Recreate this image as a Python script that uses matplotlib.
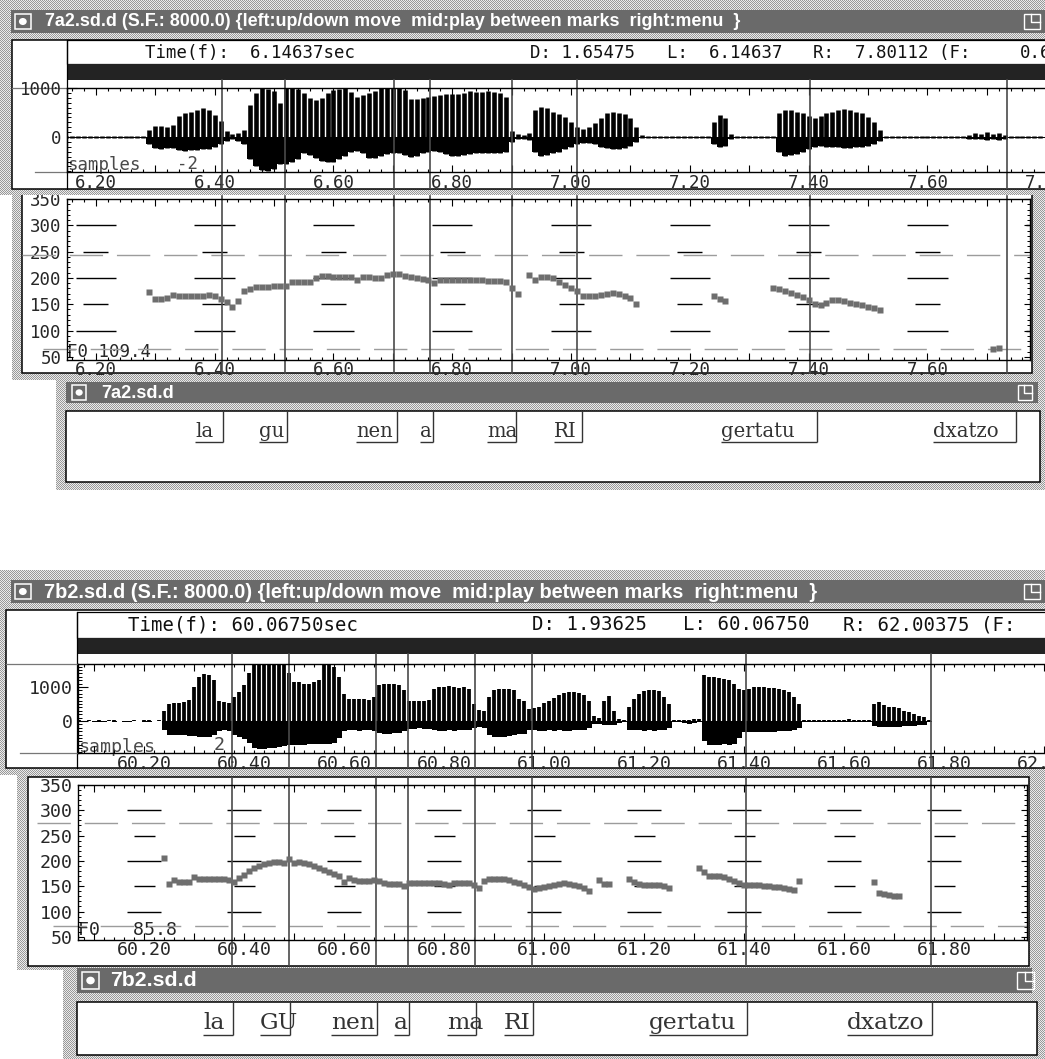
import numpy as np
import matplotlib
matplotlib.use("Agg")
import matplotlib.pyplot as plt
from matplotlib.patches import Rectangle, Ellipse
from matplotlib.ticker import MultipleLocator, FuncFormatter
from matplotlib.font_manager import FontProperties

# ---------------------------------------------------------------- data
# 7a2: displayed segment (seconds)
A_LEFT, A_RIGHT = 6.14637, 7.80112
# 7b2: displayed segment (seconds)
B_LEFT, B_RIGHT = 60.06750, 62.00375

FRAME_STEP = 0.01

# waveform envelopes (sample units), one value per 10 ms frame
A_WAVE_T0 = 6.15
A_WAVE_HI = [
    18, 22, 15, 20, 25, 18, 16, 22, 20, 15,
    20, 18, 24, 30, 150, 220, 230, 210, 250, 420,
    480, 520, 560, 600, 560, 450, 330, 120, 60, 80,
    150, 650, 900, 1000, 980, 930, 700, 1000, 1000, 980,
    900, 800, 760, 800, 900, 950, 980, 1000, 920, 820,
    850, 900, 940, 1000, 1000, 1000, 1000, 950, 780, 780,
    800, 820, 830, 850, 880, 880, 880, 900, 930, 920,
    920, 930, 910, 900, 820, 120, 60, 40, 80, 560,
    620, 590, 520, 460, 400, 300, 200, 170, 200, 280,
    380, 480, 520, 500, 470, 380, 200, 40, 22, 18,
    20, 25, 18, 22, 20, 16, 22, 18, 24, 300,
    450, 380, 60, 25, 20, 22, 18, 25, 20, 22,
    480, 550, 560, 520, 480, 420, 380, 420, 480, 520,
    560, 580, 560, 520, 480, 400, 300, 150, 20, 18,
    22, 18, 20, 25, 20, 18, 22, 20, 24, 18,
    20, 30, 50, 80, 60, 100, 70, 90, 50, 25,
    20, 18, 22, 20, 18, 20]
A_WAVE_LO = [
    -20, -18, -22, -15, -20, -25, -18, -16, -20, -22,
    -18, -20, -25, -30, -150, -220, -240, -230, -230, -260,
    -280, -270, -260, -250, -240, -200, -150, -80, -50, -80,
    -150, -450, -600, -680, -700, -650, -560, -560, -520, -440,
    -330, -360, -420, -480, -520, -500, -440, -380, -300, -280,
    -320, -420, -420, -380, -350, -330, -330, -360, -400, -380,
    -320, -300, -280, -300, -350, -380, -380, -360, -350, -330,
    -320, -320, -330, -320, -300, -100, -50, -40, -60, -300,
    -380, -360, -330, -300, -250, -200, -150, -120, -130, -150,
    -200, -230, -250, -240, -220, -180, -100, -30, -20, -18,
    -22, -18, -20, -25, -18, -20, -22, -18, -20, -150,
    -210, -180, -40, -25, -20, -18, -22, -20, -25, -20,
    -300, -380, -370, -350, -300, -250, -200, -180, -200, -210,
    -210, -220, -220, -210, -200, -190, -150, -80, -20, -22,
    -20, -18, -22, -20, -25, -18, -20, -22, -18, -20,
    -22, -30, -40, -50, -40, -60, -50, -60, -40, -25,
    -20, -22, -18, -20, -22, -18]

B_WAVE_T0 = 60.07
B_WAVE_HI = [
    15, 12, 18, 14, 16, 12, 15, 20, 14, 12,
    14, 16, 12, 15, 18, 14, 16, 300, 500, 540,
    520, 560, 620, 1000, 1300, 1390, 1350, 1200, 600, 560,
    540, 700, 850, 1050, 1400, 1650, 1650, 1650, 1650, 1650,
    1650, 1650, 1400, 1150, 1150, 1100, 1100, 1150, 1200, 1650,
    1650, 1600, 1300, 800, 650, 640, 650, 660, 620, 700,
    1050, 1100, 1100, 1080, 1050, 900, 600, 600, 580, 600,
    620, 950, 1000, 1000, 1020, 1000, 980, 1000, 950, 500,
    310, 300, 700, 900, 950, 950, 940, 900, 650, 600,
    360, 380, 420, 520, 600, 680, 750, 820, 850, 860,
    820, 750, 600, 150, 100, 600, 725, 300, 60, 40,
    410, 650, 800, 880, 900, 900, 880, 700, 510, 40,
    35, 30, 40, 50, 45, 1340, 1300, 1280, 1250, 1240,
    1200, 1100, 950, 900, 950, 1000, 1000, 1000, 980, 960,
    950, 900, 850, 700, 510, 25, 20, 22, 18, 20,
    25, 30, 40, 35, 45, 40, 30, 35, 25, 500,
    560, 480, 410, 400, 380, 300, 250, 200, 150, 120,
    20, 12, 10, 12, 10, 8, 10, 12, 10, 8,
    10, 12, 8, 10, 12, 10, 8, 10, 12, 10,
    8, 10, 12, 10]
B_WAVE_LO = [
    -15, -14, -12, -16, -15, -18, -12, -15, -14, -16,
    -15, -12, -14, -16, -15, -14, -12, -250, -400, -420,
    -420, -420, -430, -450, -470, -470, -460, -420, -280, -260,
    -300, -420, -470, -520, -650, -800, -820, -810, -800, -780,
    -760, -740, -720, -715, -700, -700, -690, -680, -670, -680,
    -670, -660, -500, -300, -275, -270, -280, -270, -260, -300,
    -360, -370, -370, -360, -350, -300, -230, -225, -220, -230,
    -240, -270, -280, -280, -275, -280, -270, -275, -260, -200,
    -180, -200, -420, -470, -470, -460, -450, -420, -380, -370,
    -270, -275, -280, -280, -275, -280, -275, -280, -280, -270,
    -270, -250, -220, -100, -80, -120, -130, -120, -50, -40,
    -250, -270, -275, -280, -275, -280, -270, -260, -200, -40,
    -35, -60, -100, -60, -40, -600, -715, -720, -700, -690,
    -700, -680, -500, -320, -320, -330, -320, -320, -310, -310,
    -300, -300, -290, -260, -200, -25, -20, -18, -22, -20,
    -20, -30, -40, -35, -40, -30, -35, -40, -30, -150,
    -180, -180, -170, -180, -170, -160, -150, -140, -130, -110,
    -15, -10, -12, -10, -8, -10, -12, -10, -8, -10,
    -10, -8, -12, -10, -8, -10, -12, -10, -8, -10,
    -10, -12, -10, -8]

# F0 tracks (Hz), voiced stretches: start time + one value per 10 ms frame
A_F0_STARTS = [6.29, 6.93, 7.24, 7.34, 7.71]
A_F0_SEG1 = [173, 159, 160, 161, 168, 165, 165, 165, 165, 165,
             168, 166, 160, 155, 144, 157, 175, 179, 182, 183,
             183, 184, 184, 184, 192, 193, 193, 193, 199, 203,
             203, 202, 202, 202, 201, 196, 202, 201, 200, 199,
             205, 207, 207, 203, 201, 200, 198, 196, 190, 197,
             197, 196, 196, 197, 197, 196, 196, 195, 195, 194,
             193, 181, 170]
A_F0_SEG2 = [205, 197, 202, 202, 199, 193, 187, 181, 176, 166,
             165, 165, 167, 170, 172, 170, 166, 161, 151]
A_F0_SEG3 = [165, 160, 157]
A_F0_SEG4 = [180, 179, 175, 172, 168, 164, 158, 150, 149, 153,
             158, 158, 156, 153, 150, 148, 145, 142, 139]
A_F0_SEG5 = [65, 67]

B_F0_STARTS = [60.24, 61.11, 61.17, 61.31, 61.51, 61.66]
B_F0_SEG1 = [205, 154, 162, 159, 158, 158, 168, 164, 164, 164,
             165, 165, 164, 163, 158, 166, 173, 180, 186, 190,
             194, 196, 197, 197, 195, 203, 196, 197, 196, 194,
             190, 186, 182, 178, 174, 170, 158, 166, 162, 161,
             161, 161, 162, 161, 156, 155, 155, 155, 151, 156,
             156, 156, 157, 156, 156, 156, 155, 152, 156, 157,
             156, 156, 152, 146, 161, 164, 165, 165, 164, 162,
             158, 156, 152, 148, 145, 146, 148, 150, 153, 155,
             156, 155, 153, 150, 147, 140]
B_F0_SEG2 = [162, 155, 154]
B_F0_SEG3 = [165, 158, 154, 153, 152, 152, 152, 150, 147]
B_F0_SEG4 = [185, 178, 171, 170, 170, 168, 165, 161, 156, 153,
             152, 152, 152, 151, 150, 149, 148, 146, 145, 143]
B_F0_SEG5 = [161]
B_F0_SEG6 = [158, 137, 135, 132, 130, 131]

# F0 display range markers and summary values
A_F0_RANGE = [243.5, 64.9]
B_F0_RANGE = [274.3, 72.0]
A_F0_VALUE = "F0 109.4"
B_F0_VALUE = "F0   85.8"

# syllable labels: text, text start time, right boundary time
A_LABELS = ["la", "gu", "nen", "a", "ma", "RI", "gertatu", "dxatzo"]
A_LABEL_START = [6.3657, 6.4724, 6.6341, 6.7407, 6.8524, 6.9640, 7.2423, 7.5956]
A_MARKS = [6.4124, 6.5184, 6.7019, 6.7625, 6.9006, 7.0100, 7.4023, 7.7339]
B_LABELS = ["la", "GU", "nen", "a", "ma", "RI", "gertatu", "dxatzo"]
B_LABEL_START = [60.3155, 60.4295, 60.5715, 60.6975, 60.8035, 60.9175, 61.2075, 61.6035]
B_MARKS = [60.3755, 60.4895, 60.6635, 60.7275, 60.8615, 60.9755, 61.4035, 61.7735]

A_TITLE = "7a2.sd.d (S.F.: 8000.0) {left:up/down move  mid:play between marks  right:menu  }"
B_TITLE = "7b2.sd.d (S.F.: 8000.0) {left:up/down move  mid:play between marks  right:menu  }"
A_INFO = ["Time(f):  6.14637sec", "D: 1.65475", "L:  6.14637", "R:  7.80112 (F:", "0.6"]
B_INFO = ["Time(f): 60.06750sec", "D: 1.93625", "L: 60.06750", "R: 62.00375 (F:"]

# ---------------------------------------------------------------- style
W, H = 1045, 1059
BAR = "#6a6a6a"
MARK = "#4a4a4a"
DOTS = "#6e6e6e"
TXT = "#262626"
MONO = "DejaVu Sans Mono"
plt.rcParams["font.family"] = [MONO]
plt.rcParams["lines.scale_dashes"] = False

fig = plt.figure(figsize=(W / 100, H / 100), dpi=100)
renderer = fig.canvas.get_renderer()


def fit(s, target_px, **fp):
    prop = FontProperties(size=10, **fp)
    w, h, d = renderer.get_text_width_height_descent(s, prop, ismath=False)
    return 10.0 * target_px / w


# stippled window frames
frames = [(0, 1045, 0, 195), (12, 1045, 188, 380), (56, 1045, 373, 490),
          (0, 1045, 570, 775), (17, 1045, 770, 970), (63, 1045, 960, 1059)]
yy, xx = np.mgrid[0:H, 0:W]
checker = np.where((yy + xx) % 2 == 0, 0.60, 0.92)
img = np.ones((H, W))
for x0, x1, y0, y1 in frames:
    img[y0:y1, x0:x1] = checker[y0:y1, x0:x1]
fig.figimage(img, xo=0, yo=0, origin="upper", cmap="gray", vmin=0, vmax=1, zorder=-10)
strip = checker[190:195, 12:1045]
fig.figimage(strip, xo=12, yo=H - 195, origin="upper", cmap="gray", vmin=0, vmax=1, zorder=10)

# full-figure canvas in pixel coordinates for window chrome
cv = fig.add_axes([0, 0, 1, 1], zorder=0)
cv.set_xlim(0, W)
cv.set_ylim(H, 0)
cv.axis("off")


def box(x0, y0, x1, y1, fc="white", ec="black", lw=1.1, z=1):
    cv.add_patch(Rectangle((x0, y0), x1 - x0, y1 - y0, facecolor=fc,
                           edgecolor=ec, lw=lw, zorder=z))


def title_bar(x0, y0, x1, y1, text, tx, tw, ix, rx):
    box(x0, y0, x1, y1, fc=BAR, ec="none")
    h = y1 - y0
    s = h * 0.68
    iy = y0 + (h - s) / 2
    cv.add_patch(Rectangle((ix, iy), s, s, fc="none", ec="white", lw=1.1, zorder=2))
    cv.add_patch(Ellipse((ix + s / 2, iy + s / 2), s * 0.5, s * 0.45,
                         fc="white", ec="none", zorder=2))
    cv.add_patch(Rectangle((rx, iy), s, s, fc="none", ec="white", lw=1.0, zorder=2))
    cv.plot([rx + s * 0.45, rx + s * 0.45, rx + s], [iy, iy + s * 0.55, iy + s * 0.55],
            color="white", lw=1.0, zorder=2)
    fs = fit(text, tw, family="Liberation Sans", weight="bold")
    cv.text(tx, (y0 + y1) / 2 + 0.5, text, color="white", fontsize=fs,
            family="Liberation Sans", weight="bold", va="center", ha="left", zorder=3)


def time_axes(px0, py0, px1, py1, t_left, origin, scale, ylim):
    ax = fig.add_axes([px0 / W, 1 - py1 / H, (px1 - px0) / W, (py1 - py0) / H], zorder=1)
    ax.set_facecolor("none")
    ax.set_xlim(t_left + (px0 - origin) / scale, t_left + (px1 - origin) / scale)
    ax.set_ylim(*ylim)
    return ax


def tfmt(v, pos):
    return f"{v:.2f}" if int(round(v * 10)) % 2 == 0 else ""


def time_ticks(ax, fs, pad):
    ax.xaxis.set_major_locator(MultipleLocator(0.1))
    ax.xaxis.set_minor_locator(MultipleLocator(0.02))
    ax.xaxis.set_major_formatter(FuncFormatter(tfmt))
    ax.tick_params(axis="x", which="major", direction="in", top=True, bottom=True,
                   length=5, width=0.8, pad=pad, labelsize=fs, labelcolor=TXT)
    ax.tick_params(axis="x", which="minor", direction="in", top=True, bottom=True,
                   length=2.2, width=0.8)


def wave_panel(px0, py0, px1, py1, t_left, origin, scale, ylim, t0, hi, lo, marks,
               fs, lw, ymin, ymax):
    ax = time_axes(px0, py0, px1, py1, t_left, origin, scale, ylim)
    t = t0 + FRAME_STEP * np.arange(len(hi))
    # dense lower half, striped pitch pulses above the zero line
    ax.fill_between(t, lo, 0, step="mid", color="black", lw=0)
    ax.vlines(t, lo, hi, color="black", lw=lw)
    for sp in ("top", "bottom", "left"):
        ax.spines[sp].set_linewidth(1.0)
    ax.spines["right"].set_visible(False)
    time_ticks(ax, fs, 1.5)
    ax.yaxis.set_major_locator(MultipleLocator(1000))
    ax.yaxis.set_minor_locator(MultipleLocator(100))
    ax.tick_params(axis="y", which="major", direction="in", length=7, width=0.8,
                   pad=4, labelsize=fs, labelcolor=TXT)
    ax.tick_params(axis="y", which="minor", direction="in", length=3, width=0.7)
    for m in marks:
        ax.axvline(m, ymin=ymin, ymax=ymax, color=MARK, lw=1.2, clip_on=False)
    return ax


def f0_panel(px0, py0, px1, py1, t_left, origin, scale, ylim, starts, segs, marks,
             rng, rng_from, fs, ms, ymin, ymax):
    ax = time_axes(px0, py0, px1, py1, t_left, origin, scale, ylim)
    for sp in ax.spines.values():
        sp.set_linewidth(1.0)
    time_ticks(ax, fs, 1.0)
    ax.yaxis.set_major_locator(MultipleLocator(50))
    ax.yaxis.set_minor_locator(MultipleLocator(10))
    ax.tick_params(axis="y", which="major", direction="in", left=True, right=True,
                   length=4.5, width=0.8, pad=4, labelsize=fs, labelcolor=TXT)
    ax.tick_params(axis="y", which="minor", direction="in", left=True, right=True,
                   length=2.2, width=0.7)
    lo_t, hi_t = ax.get_xlim()
    centers = np.arange(np.ceil(lo_t * 5) / 5, hi_t + 0.05, 0.2)
    for c in centers:
        ax.hlines([100, 200, 300], c - 0.034, c + 0.034, color="black", lw=1.0)
        ax.hlines([150, 250], c - 0.021, c + 0.021, color="black", lw=1.0)
    for level, xfrom in zip(rng, rng_from):
        ax.axhline(level, xmin=(xfrom - px0) / (px1 - px0), xmax=1, color="#9c9c9c",
                   lw=1.0, dashes=(24, 10), clip_on=False)
    for m in marks:
        ax.axvline(m, ymin=ymin, ymax=ymax, color=MARK, lw=1.2, clip_on=False)
    for st, vals in zip(starts, segs):
        t = st + FRAME_STEP * np.arange(len(vals))
        ax.plot(t, vals, "s", ms=ms, color=DOTS, mec="none", linestyle="none")
    return ax


def label_panel(px0, py0, px1, py1, t_left, origin, scale, texts, starts, marks,
                base_y, line_y, fs):
    ax = fig.add_axes([px0 / W, 1 - py1 / H, (px1 - px0) / W, (py1 - py0) / H], zorder=1)
    ax.axis("off")
    ax.set_xlim(t_left + (px0 - origin) / scale, t_left + (px1 - origin) / scale)
    ax.set_ylim(py1, py0)
    for s, ts, tb in zip(texts, starts, marks):
        ax.text(ts, base_y, s, ha="left", va="baseline", family="DejaVu Serif",
                fontsize=fs, color="#333333")
        ax.hlines(line_y, ts, tb, color="#333333", lw=1.0)
        ax.vlines(tb, py0, line_y, color="#333333", lw=1.0)
    return ax


# ================================================================ 7a2
box(12, 40, 1048, 189)
title_bar(11, 10, 1048, 33, A_TITLE, 45, 695, 15, 1024)
box(67, 40, 1048, 64, fc="white", ec="black", lw=0.9, z=2)
box(67, 64, 1048, 80, fc="#232323", ec="none", z=2)
cv.plot([67, 67], [40, 189], color="black", lw=0.9, zorder=3)
cv.plot([12, 67], [88, 88], color="#777777", lw=0.9, zorder=3)
cv.plot([35, 67], [172, 172], color="#777777", lw=0.9, zorder=3)
fs_info_a = fit(A_INFO[0], 210, family=MONO)
for s, x in zip(A_INFO, [145, 530, 667, 813, 1020]):
    cv.text(x, 52.5, s, family=MONO, fontsize=fs_info_a, color="#111111",
            va="center", ha="left", zorder=3)
fs_a = fit("6.20", 42, family=MONO)
wave_panel(67, 88, 1052, 172, A_LEFT, 64, 594, (-714, 1000), A_WAVE_T0,
           A_WAVE_HI, A_WAVE_LO, A_MARKS, fs_a, 3.3, -0.19, 1.095)
cv.text(67, 165, "samples", family=MONO, fontsize=fs_a, color="#4a4a4a",
        va="center", ha="left", zorder=3)
cv.text(198, 164, "-2", family=MONO, fontsize=fs_a, color="#4a4a4a",
        va="center", ha="right", zorder=3)

# F0 window for 7a2
box(22, 192, 1032, 373)
f0_panel(67, 199, 1030, 360, A_LEFT, 64, 594, (44, 350), A_F0_STARTS,
         [A_F0_SEG1, A_F0_SEG2, A_F0_SEG3, A_F0_SEG4, A_F0_SEG5], A_MARKS,
         A_F0_RANGE, [22, 43], fs_a, 5.0, -0.08, 1.02)
cv.text(67, 352, A_F0_VALUE, family=MONO, fontsize=fs_a, color=TXT,
        va="center", ha="left", zorder=3)

# label window for 7a2
title_bar(66, 382, 1038, 403, "7a2.sd.d", 101, 73, 72, 1018)
box(66, 411, 1040, 482)
fs_lab_a = fit("gertatu", 74, family="DejaVu Serif")
label_panel(66, 411, 1040, 482, A_LEFT, 63.4, 600, A_LABELS, A_LABEL_START, A_MARKS,
            437, 442, fs_lab_a)

# ================================================================ 7b2
box(6, 610, 1048, 768)
title_bar(11, 580, 1048, 603, B_TITLE, 44, 773, 15, 1024)
box(77, 612, 1048, 638, fc="white", ec="black", lw=0.9, z=2)
box(77, 638, 1048, 654, fc="#232323", ec="none", z=2)
cv.plot([77, 77], [612, 768], color="black", lw=0.9, zorder=3)
cv.plot([6, 78], [664, 664], color="#777777", lw=0.9, zorder=3)
cv.plot([20, 78], [753, 753], color="#777777", lw=0.9, zorder=3)
fs_info_b = fit(B_INFO[0], 230, family=MONO)
for s, x in zip(B_INFO, [128, 532, 683, 843]):
    cv.text(x, 625, s, family=MONO, fontsize=fs_info_b, color="#111111",
            va="center", ha="left", zorder=3)
fs_b = fit("60.20", 55, family=MONO)
wave_panel(78, 664, 1052, 753, B_LEFT, 78, 500, (-941, 1676), B_WAVE_T0,
           B_WAVE_HI, B_WAVE_LO, B_MARKS, fs_b, 2.7, -0.157, 1.112)
cv.text(78, 747, "samples", family=MONO, fontsize=fs_b, color="#4a4a4a",
        va="center", ha="left", zorder=3)
cv.text(225, 745, "2", family=MONO, fontsize=fs_b, color="#4a4a4a",
        va="center", ha="right", zorder=3)

# F0 window for 7b2
box(28, 777, 1029, 966)
f0_panel(78, 785, 1027, 940, B_LEFT, 78, 500, (43.7, 350), B_F0_STARTS,
         [B_F0_SEG1, B_F0_SEG2, B_F0_SEG3, B_F0_SEG4, B_F0_SEG5, B_F0_SEG6], B_MARKS,
         B_F0_RANGE, [37, 53], fs_b, 4.5, -0.161, 1.045)
cv.text(78, 930, B_F0_VALUE, family=MONO, fontsize=fs_b, color=TXT,
        va="center", ha="left", zorder=3)

# label window for 7b2
title_bar(77, 968, 1032, 993, "7b2.sd.d", 110, 87, 82, 1017)
box(77, 1002, 1037, 1055)
fs_lab_b = fit("gertatu", 88, family="DejaVu Serif")
label_panel(77, 1002, 1037, 1055, B_LEFT, 79, 500, B_LABELS, B_LABEL_START, B_MARKS,
            1029, 1035, fs_lab_b)

fig.savefig("out.png", dpi=100)
